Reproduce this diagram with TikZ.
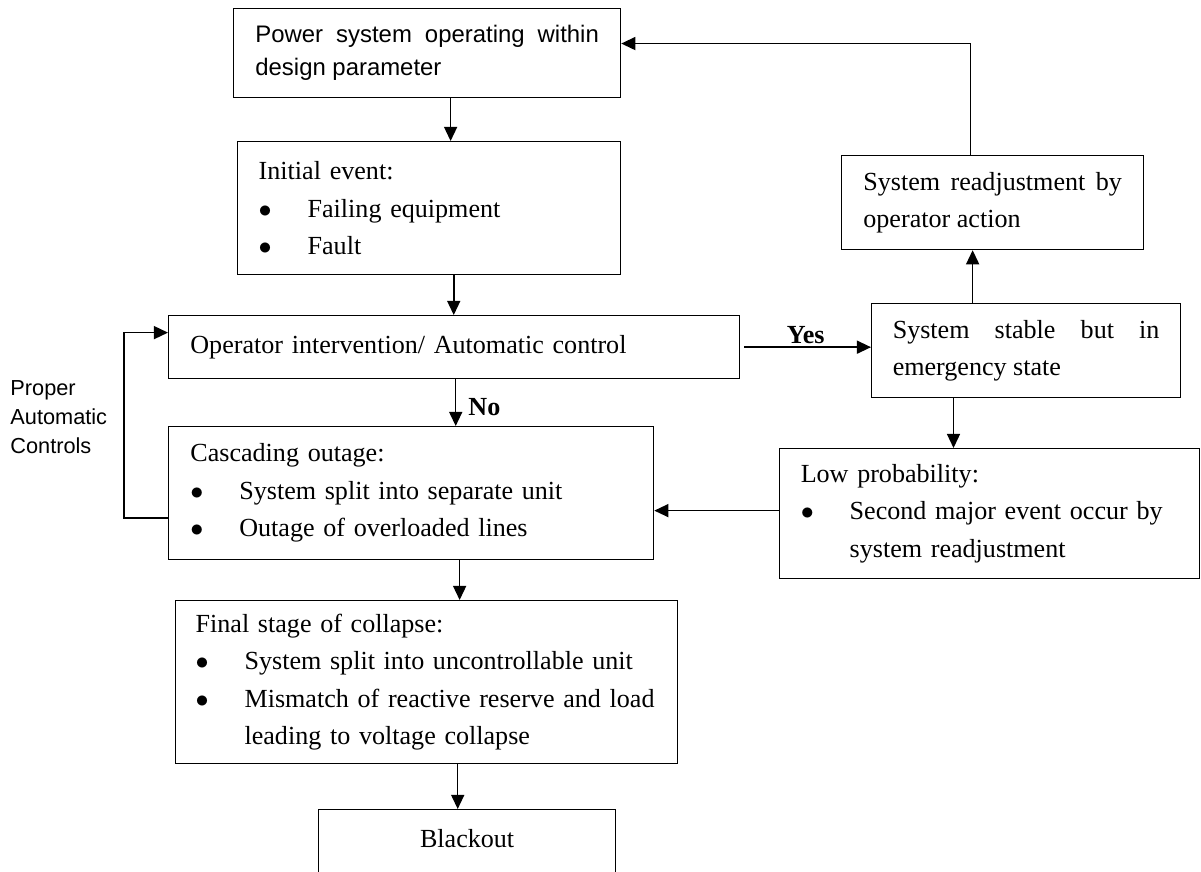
\documentclass[tikz,border=0pt]{standalone}
\usepackage{fontspec}
\setmainfont{Liberation Serif}
\newfontfamily\arialf{Liberation Sans}
\usetikzlibrary{arrows.meta,positioning}
\hyphenpenalty=10000
\exhyphenpenalty=10000
\newcommand{\bul}{\makebox[22.5pt][l]{$\bullet$}}
\tikzset{
  blk/.style={rectangle, draw=black, line width=0.6pt, anchor=north west, inner xsep=10pt, inner ysep=2pt, font=\fontsize{12}{17.25}\selectfont},
  blkj/.style={blk, align=justify},
  blkl/.style={blk, align=left},
  line/.style={draw, line width=0.7pt, -{Triangle[length=6.5pt,width=6pt]}},
  lbl/.style={font=\bfseries\fontsize{12}{14}\selectfont, inner sep=1pt},
}
\begin{document}
\begin{tikzpicture}[x=0.46pt,y=-0.46pt]
  \useasboundingbox (0,0) rectangle (1201,871);
  \clip (0,0) rectangle (1201,871);
  % main column
  \node[blkj,font=\arialf\fontsize{11}{15}\selectfont,text width=158pt,minimum height=40.9pt] (P) at (233,8) {Power system operating within design parameter};
  \node[blkl,inner xsep=9.7pt,text width=156.8pt,minimum height=61.2pt] (I) at (237,141) {Initial event:\\ \bul Failing equipment\\ \bul Fault};
  \node[blkl,text width=242.7pt,minimum height=29pt] (O) at (168,315) {Operator intervention/ Automatic control};
  \node[blkl,text width=203.1pt,minimum height=61.2pt] (C) at (168,426) {Cascading outage:\\ \bul System split into separate unit\\ \bul Outage of overloaded lines};
  \node[blkl,inner xsep=9.2pt,text width=212.5pt,minimum height=75pt] (F) at (175,600) {Final stage of collapse:\\ \bul System split into uncontrollable unit\\ \bul Mismatch of reactive reserve and load\\ \hspace*{22.5pt}leading to voltage collapse};
  \node[blk,align=center,minimum width=136.6pt,inner ysep=9pt,text depth=20pt] (B) at (318,809) {Blackout};
  % right column
  \node[blkj,text width=118.9pt,minimum height=43.2pt] (R) at (841,155) {System readjustment by operator action};
  \node[blkj,inner xsep=9.7pt,text width=122.7pt,minimum height=43.2pt] (S) at (871,303) {System stable but in emergency state};
  \node[blkl,inner xsep=9.7pt,text width=173.8pt,minimum height=59.8pt] (L) at (779,448) {Low probability:\\ \bul Second major event occur by\\ \hspace*{22.5pt}system readjustment};
  \node[font=\arialf\fontsize{10}{13.3}\selectfont,align=left,anchor=west,inner sep=0pt] (pac) at (10,417) {Proper\\Automatic\\Controls};

  \draw[line] ([xshift=10.8pt]P.south) coordinate (a1) -- (a1 |- I.north);
  \draw[line] ([xshift=11.3pt]I.south) coordinate (a2) -- (a2 |- O.north);
  \draw[line] ([xshift=0.7pt]O.south) coordinate (a3) -- (a3 |- C.north) node[lbl,right,pos=0.6,xshift=4.5pt] (no) {No};
  \draw[line] ([xshift=22.3pt]C.south) coordinate (a4) -- (a4 |- F.north);
  \draw[line] ([xshift=14.3pt]F.south) coordinate (a5) -- (a5 |- B.north);
  \draw[line,shorten <=1.8pt] (O.east) -- (O.east -| S.west) node[lbl,above,pos=0.5] (yes) {Yes};
  \draw[line] ([xshift=-24.6pt]S.north) coordinate (a6) -- (a6 |- R.south);
  \draw[line] ([xshift=-10.1pt]R.north) |- ([yshift=4.4pt]P.east);
  \draw[line] ([xshift=-33.4pt]S.south) coordinate (a7) -- (a7 |- L.north);
  \draw[line] ([yshift=1.4pt]L.west) coordinate (a8) -- (a8 -| C.east);
  \draw[line] ([yshift=-11.3pt]C.west) -- ++(-20.2pt,0) |- ([yshift=6.7pt]O.west);
\end{tikzpicture}
\end{document}
